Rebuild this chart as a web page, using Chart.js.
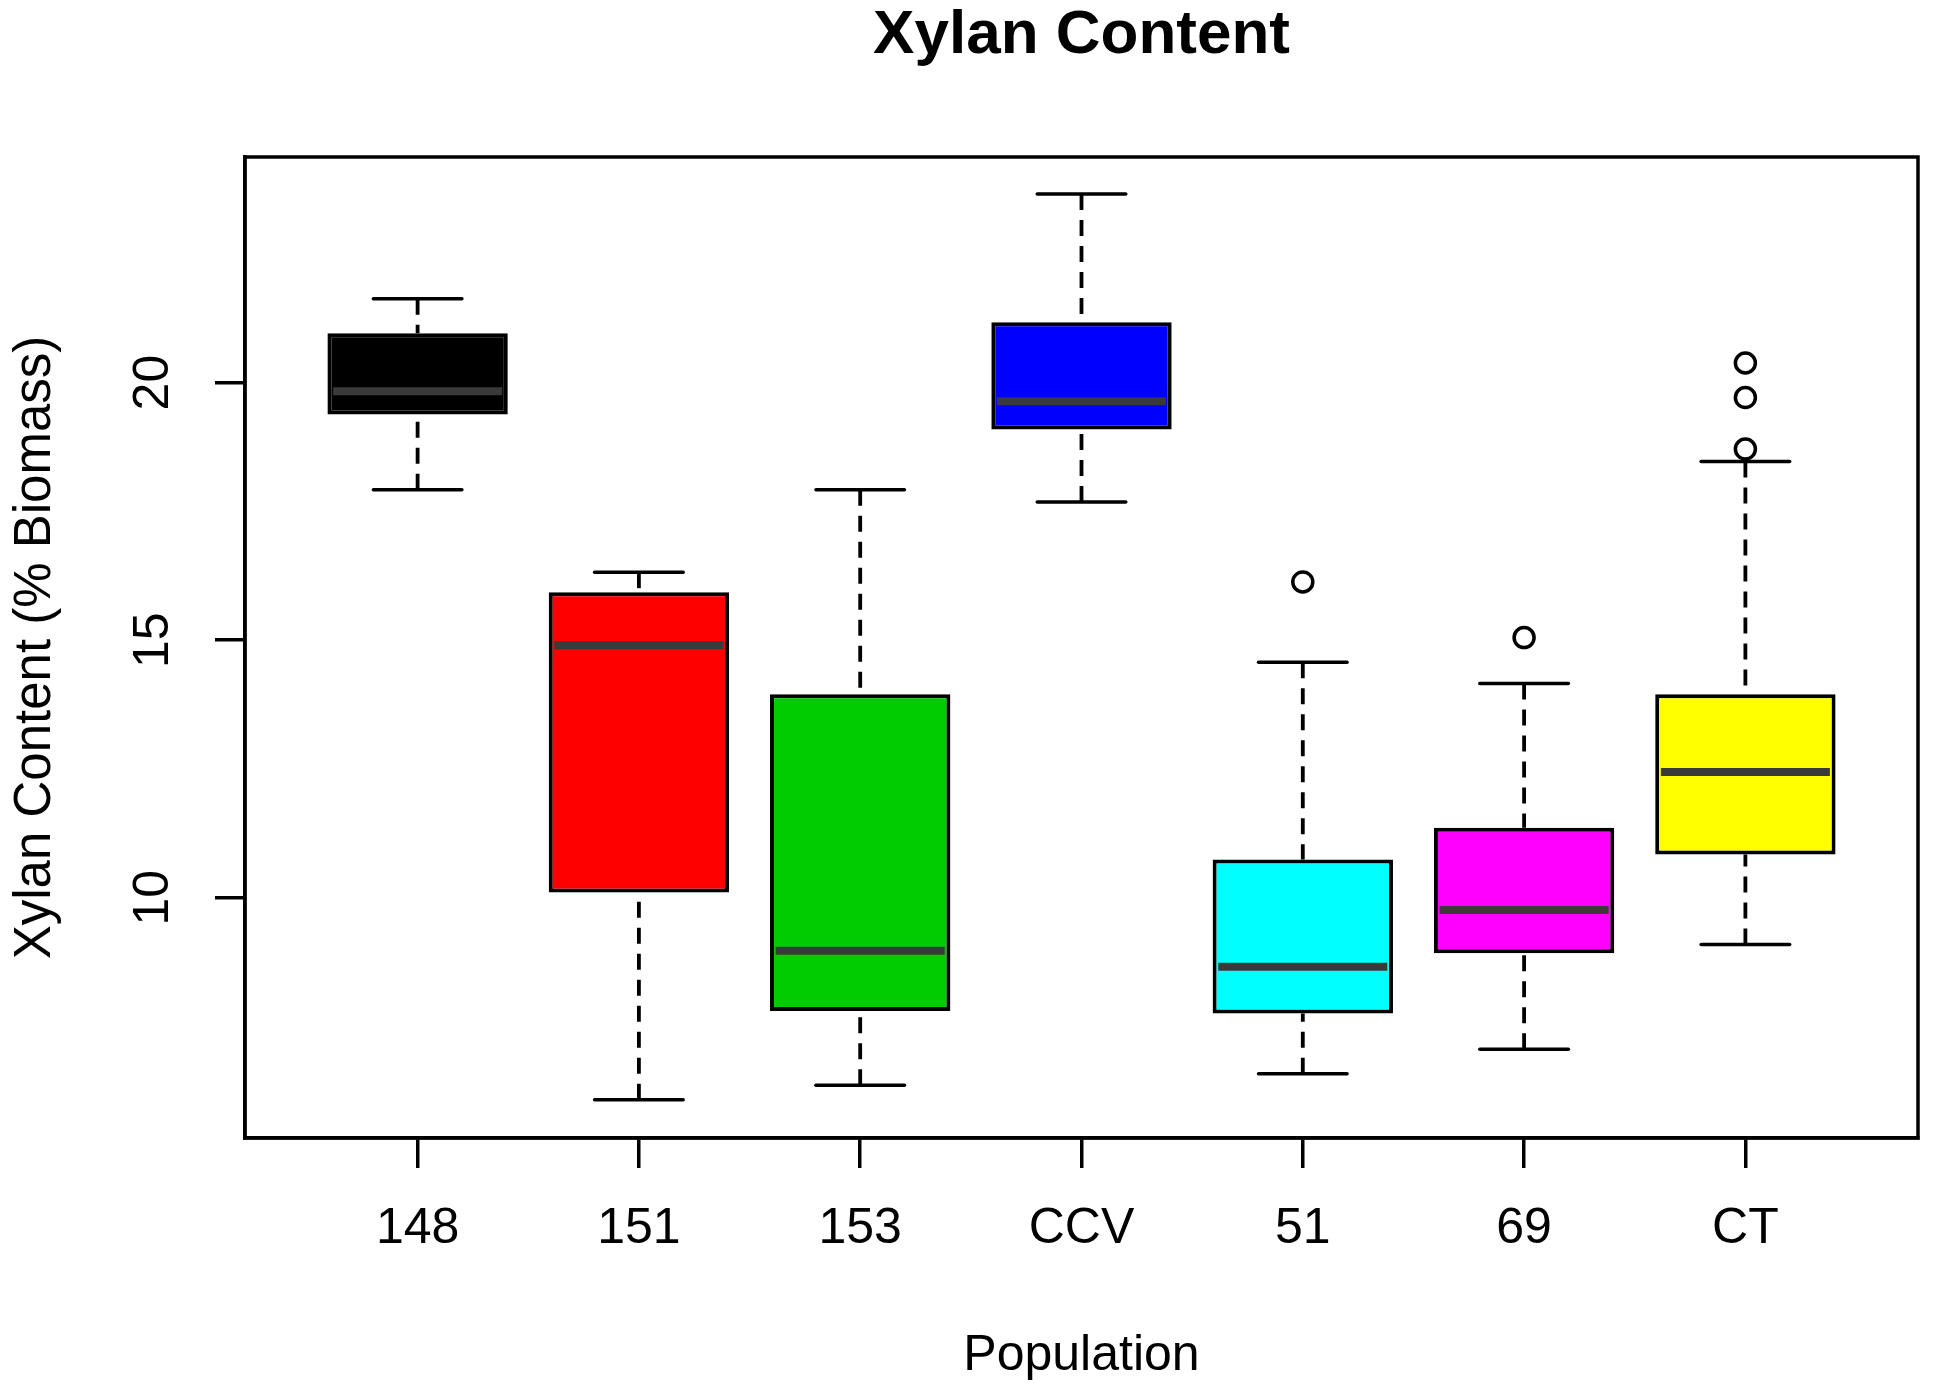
<!DOCTYPE html>
<html><head><meta charset="utf-8">
<script src="https://cdn.jsdelivr.net/npm/chart.js@4"></script>
<style>html,body{margin:0;padding:0;background:#fff}#wrap{width:1933px;height:1396px}</style>
</head><body><div id="wrap"><canvas id="c" width="1933" height="1396"></canvas></div>
<script>
const categories = ['148','151','153','CCV','51','69','CT'];
const boxColors = ['#000000','#FF0000','#00CD00','#0000FF','#00FFFF','#FF00FF','#FFFF00'];
const whiskerLow  = [17.92, 6.08, 6.36, 17.68, 6.58, 7.06, 9.09];
const q1          = [19.38, 10.10, 7.80, 19.09, 7.75, 8.92, 10.84];
const medians     = [19.83, 14.90, 8.97, 19.64, 8.66, 9.76, 12.44];
const q3          = [20.96, 15.93, 13.95, 21.17, 10.74, 11.36, 13.95];
const whiskerHigh = [21.63, 16.32, 17.92, 23.66, 14.57, 14.16, 18.47];
const outlierGroup  = [5, 6, 7, 7, 7];
const outlierValues = [16.13, 15.05, 20.38, 19.71, 18.71];
const yTicks = [10, 15, 20];

const FONT = "'Liberation Sans', Arial, sans-serif";
Chart.defaults.font.family = FONT;
Chart.defaults.color = '#000';

const boxExtras = {
  id: 'boxExtras',
  afterDatasetsDraw(chart) {
    const {ctx, scales: {x, y}} = chart;
    const seg = (x1, y1, x2, y2) => { ctx.beginPath(); ctx.moveTo(x1, y1); ctx.lineTo(x2, y2); ctx.stroke(); };
    ctx.save();
    categories.forEach((c, i) => {
      const cx = x.getPixelForValue(i + 1);
      const half = x.getPixelForValue(i + 1.4) - cx;
      const cap = half / 2;
      const yHi = y.getPixelForValue(whiskerHigh[i]);
      const yLo = y.getPixelForValue(whiskerLow[i]);
      ctx.strokeStyle = '#000';
      ctx.lineWidth = 3.8;
      ctx.lineCap = 'butt';
      ctx.setLineDash([16, 10]);
      seg(cx, yHi, cx, y.getPixelForValue(q3[i]));
      seg(cx, yLo, cx, y.getPixelForValue(q1[i]));
      ctx.setLineDash([]);
      ctx.lineWidth = 3.5;
      ctx.lineCap = 'round';
      seg(cx - cap, yHi, cx + cap, yHi);
      seg(cx - cap, yLo, cx + cap, yLo);
      ctx.lineCap = 'butt';
      ctx.strokeStyle = '#3a3a3a';
      ctx.lineWidth = 8;
      const ym = y.getPixelForValue(medians[i]);
      seg(cx - half + 4, ym, cx + half - 4, ym);
    });
    ctx.restore();
  },
  afterDraw(chart) {
    const {ctx, chartArea: a} = chart;
    ctx.save();
    ctx.strokeStyle = '#000';
    ctx.lineWidth = 3.5;
    ctx.strokeRect(a.left, a.top, a.right - a.left, a.bottom - a.top);
    ctx.restore();
  }
};

new Chart(document.getElementById('c'), {
  type: 'bar',
  data: {
    datasets: [{
      type: 'bar',
      data: categories.map((c, i) => ({x: i + 1, y: [q1[i], q3[i]]})),
      backgroundColor: boxColors,
      borderColor: '#000',
      borderWidth: 4,
      borderSkipped: false,
      barPercentage: 1,
      categoryPercentage: 0.815
    }, {
      type: 'scatter',
      data: outlierGroup.map((g, i) => ({x: g, y: outlierValues[i]})),
      pointStyle: 'circle',
      pointRadius: 10,
      pointBorderWidth: 3.5,
      borderColor: '#000',
      backgroundColor: 'rgba(0,0,0,0)'
    }]
  },
  options: {
    responsive: false,
    devicePixelRatio: 1,
    animation: false,
    layout: {padding: {left: 0, right: 15, top: 0, bottom: 0}},
    plugins: {
      legend: {display: false},
      tooltip: {enabled: false},
      title: {
        display: true,
        text: 'Xylan Content',
        fullSize: false,
        color: '#000',
        font: {size: 62, weight: 'bold', family: FONT, lineHeight: 1},
        padding: {top: 5, bottom: 90}
      }
    },
    scales: {
      x: {
        type: 'linear',
        min: 0.22, max: 7.78,
        offset: false,
        afterBuildTicks: s => { s.ticks = categories.map((c, i) => ({value: i + 1})); },
        afterFit: s => { s.height = 258; },
        ticks: {
          autoSkip: false,
          maxRotation: 0,
          font: {size: 50},
          color: '#000',
          padding: 31,
          callback: v => categories[Math.round(v) - 1]
        },
        grid: {offset: false, drawOnChartArea: false, drawTicks: true, tickLength: 30, color: '#000', lineWidth: 3.5},
        border: {display: true, color: '#000', width: 3.5},
        title: {display: true, text: 'Population', color: '#000', font: {size: 50}, padding: {top: 0, bottom: 10}}
      },
      y: {
        type: 'linear',
        min: 5.335, max: 24.38,
        afterBuildTicks: s => { s.ticks = yTicks.map(v => ({value: v})); },
        afterFit: s => { s.width = 245; },
        ticks: {
          autoSkip: false,
          minRotation: 90, maxRotation: 90,
          crossAlign: 'center',
          font: {size: 50},
          color: '#000',
          padding: 33
        },
        grid: {drawOnChartArea: false, drawTicks: true, tickLength: 30, color: '#000', lineWidth: 3.5},
        border: {display: true, color: '#000', width: 3.5},
        title: {display: true, text: 'Xylan Content (% Biomass)', color: '#000', font: {size: 51}, padding: {top: 5, bottom: 0}}
      }
    }
  },
  plugins: [boxExtras]
});
</script>
</body></html>
